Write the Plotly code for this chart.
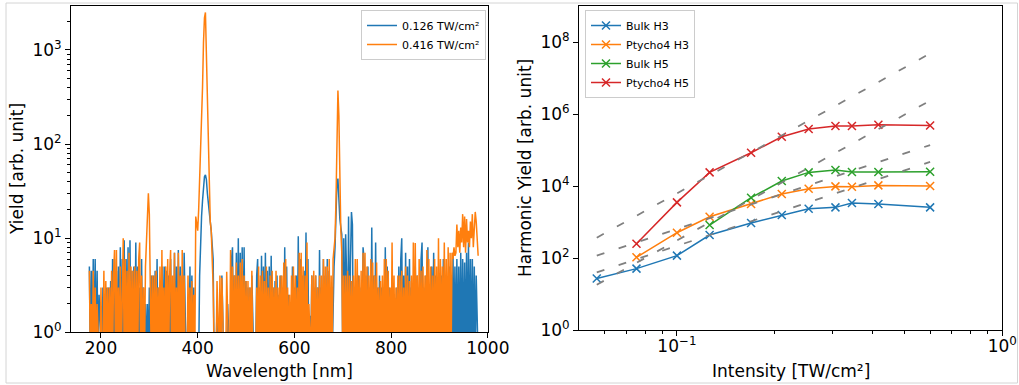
import numpy as np
import plotly.graph_objects as go

W, H = 1019, 385
FONT = "DejaVu Sans"
F = 0.5  # reading "below the axis floor" (drawn off the bottom of the log axis)

# ---------------- left panel: spectra ----------------
wavelength = np.arange(176, 981, 2)  # nm sample grid (2 nm)
yield_0126 = [
    5, F, 4.5, F, 6, F, 6, F, 4.5, F, 2.5, 1.5, F, F, 3, F, 2.5, F, 3, F,
    3, F, 3.5, F, 6, F, 6, F, 4.5, F, 5, F, 8, F, 6, F, 9.5, F, 6, F,
    8, F, 9.5, F, 4.5, F, 5, F, 9, F, 5, F, 3, F, 6, F, 3, F, 2, F,
    2, F, 3, F, 4, F, 4, F, 4.5, F, 6, F, 3, F, 3, F, 5, F, 5, F,
    4.5, F, 4, F, 6, F, 3, F, 7, F, 5, F, 7.5, F, 5, F, 4, F, 7, F,
    F, F, 2, F, 5, F, 4, F, 3, F, F, F, F, F, 4, 10, 17, 25, 38, 45,
    47, 42, 30, 22, 18, 15, 12, 8, 6, F, F, F, 2, F, F, F, F, 4, F, F,
    F, F, F, 2, F, F, F, 6, 8, F, 4, F, 7, F, 10, F, 7, F, 8, F,
    8, F, 3.5, F, 3, F, 3, F, 4, F, F, F, F, 4, 6, F, 3, F, 6.5, F,
    5, F, 7, F, 4.5, F, 5, F, 6.5, F, 3, F, 3.5, F, 4, F, 2.5, F, 4, F,
    3, F, 8, F, 5, F, 2.5, F, 2, F, 5, F, 3, F, 4, F, 10.5, F, 6, F,
    4, F, 4.5, F, 11.5, F, 6, F, 1.5, F, 4, F, 3, F, 4, F, 3, F, 7.5, F,
    3, F, 6, F, 4, F, 6, F, 4.5, F, 3, F, 3, 5, 8, 18, 38, 43, 25, 16,
    13, 11, F, 10, F, 11, 4, F, 17, F, 6, 19, 14, F, 3, F, 2, F, 4, F,
    F, 3, F, 8, 6, F, 4, F, 5, F, 3, F, 13, F, 4, F, 9, F, 3, F,
    4, F, 3, F, 3, F, 8, F, 5, F, 3, F, 2, F, F, F, 2, F, 3, F,
    5, F, 6, 10, F, 4, F, 7, F, 5, F, 6, F, 3, F, 2, F, 5, F, 4,
    F, 3, F, 6, 9, F, 3, F, 4, F, 8, F, 3, F, 5, F, 7, F, 4, F,
    2, F, 3, F, 4, F, 6, F, 3, F, 3, F, 5, F, 4, F, 7, F, 5, F,
    6, F, 5, F, 7, F, 6, F, 5.5, F, 7, F, 9, F, 6, F, 6, F, 5, F,
    4, F, F,
]
yield_0416 = [
    4.5, F, 2, F, 4.5, F, 3, F, 2, F, F, F, 3, F, F, 4.5, F, 3.5, F, 3,
    F, 3, F, 4.5, F, 4, 7.5, F, 7.5, F, 3, F, 5, F, 4, 10, F, 6, F, 4.5,
    F, 7, F, 5, F, 4.5, F, 5, F, 4.5, F, 6, 9, F, 4, F, 3, F, 5, 9,
    22, 30, 18, 5, F, 4, F, 4, F, 4.5, F, 3, F, 5, F, 7.5, F, 3, F, 5,
    F, 6, F, 4, 7.5, F, 4, F, 7, F, 3, F, 7, F, 4, F, 7.5, F, 4, F,
    F, F, 4, F, 3, F, 3.5, F, 2.5, F, 17, 14, 12, 20, 40, 80, 150, 400, 1200, 2200,
    2500, 900, 300, 80, 30, 15, 12, 6, 3, F, F, F, 3.5, F, F, 4, F, 3.8, F, F,
    F, F, 4.4, F, F, F, 7.5, F, 5, F, 4, F, 5.5, F, 4, F, 5.5, F, 6, F,
    4, F, 3.5, F, 3.5, F, 3, F, 4.5, F, F, F, F, 3, F, 5, F, 4, F, 4.5,
    F, 3.5, F, 5, F, 3, F, 4, F, 4.5, F, 3, F, 4.5, F, 3, F, 4, F, 4,
    F, 5.5, F, 6, F, 3, F, 2.5, F, 4, F, 5, F, 4, F, 3, F, 7, F, 7,
    F, 5, F, 4, F, 9, F, 2, F, F, 4, F, 4.5, F, 4, F, 3, F, 4, F,
    4, F, 6, F, 5, F, 5, F, 6, F, 4, F, 6, 9, 10, 25, 120, 370, 200, 30,
    12, 7, F, 4, F, 4, F, 4.5, F, 4, F, 3.5, F, 4, F, 6, F, 6, F, 4,
    F, 4.5, F, 7, F, 7, F, 5, F, 4, F, 6, F, 5.5, F, 4, F, 5.5, F, 3,
    F, 3.5, F, 4, F, 6, F, 6, F, 4.5, F, 3, F, 9, F, 4, F, 3, F, 4,
    F, 4, F, 4.5, F, 3, F, 5, F, 4, F, 3.5, F, 4, F, 9, F, 8.9, F, 4,
    F, 6, F, 4.5, F, 5, F, 4, F, 7.5, F, 6, F, 5, F, 4, F, 6, F, 5,
    F, 10, F, 6, F, 5, F, 9, F, 6, F, 8, F, 7, F, 7, 6, 8, 6.5, 7,
    14, 8, 12, 7, 13, 9, 18, 8, 17, 7, 16, 9, 12, 8, 15, 10, 18, 8, 13, 19,
    15, 9, 6.5,
]
spectrum_labels = ["0.126 TW/cm²", "0.416 TW/cm²"]

# ---------------- right panel: harmonic yield ----------------
intensity = [0.0567, 0.0751, 0.1, 0.126, 0.169, 0.21, 0.254, 0.307, 0.345, 0.416, 0.6]
bulk_h3 = [27, 51, 117, 438, 944, 1575, 2362, 2575, 3396, 3186, 2575]
ptycho4_h3 = [105, 508, 1416, 3186, 6043, 8505, 9870, 9660, 10520, 10090]      # from 0.0751
bulk_h5 = [830, 4780, 13900, 24200, 28100, 24700, 24700, 25200]                # from 0.126
ptycho4_h5 = [251, 3545, 24200, 85200, 237000, 388000, 470000, 470000, 512000, 490000]  # from 0.0751
series_names = ["Bulk H3", "Ptycho4 H3", "Bulk H5", "Ptycho4 H5"]
series_start = [0, 1, 3, 1]
# power-law guide lines: yield = 10**log_prefactor * I**exponent
guide_exponent = [5, 5, 3, 3]
guide_log_prefactor = [8.80, 7.49, 5.81, 5.34]

colors = ["#1f77b4", "#ff7f0e", "#2ca02c", "#d62728"]

fig = go.Figure()

for vals, name, c in zip([yield_0126, yield_0416], spectrum_labels, colors[:2]):
    fig.add_trace(go.Scatter(
        x=wavelength, y=vals, mode="lines", name=name,
        line=dict(color=c, width=1.5), xaxis="x", yaxis="y", legend="legend"))

I = np.array(intensity)
for vals, name, start, c in zip([bulk_h3, ptycho4_h3, bulk_h5, ptycho4_h5],
                                series_names, series_start, colors):
    fig.add_trace(go.Scatter(
        x=intensity[start:], y=vals, mode="lines+markers", name=name,
        line=dict(color=c, width=1.5),
        marker=dict(symbol="x-thin", size=8, color=c, line=dict(color=c, width=1.5)),
        xaxis="x2", yaxis="y2", legend="legend2"))

for n, lc in zip(guide_exponent, guide_log_prefactor):
    fig.add_trace(go.Scatter(
        x=intensity, y=10 ** lc * I ** n, mode="lines", showlegend=False,
        line=dict(color="gray", width=1.8, dash="8px,15px"),
        xaxis="x2", yaxis="y2", hoverinfo="skip"))


def px_x(p):
    return p / W


def px_y(p):
    return 1 - p / H


axis_common = dict(showline=True, mirror=True, linecolor="black", linewidth=1,
                   ticks="outside", ticklen=5, tickcolor="black", tickwidth=1,
                   showgrid=False, zeroline=False, automargin=False,
                   tickfont=dict(family=FONT, size=17, color="black"))

left_minor = [m * 10 ** d for d in range(0, 4) for m in range(2, 10) if m * 10 ** d < 3000]
fig.update_layout(
    width=W, height=H,
    margin=dict(l=0, r=0, t=0, b=0, autoexpand=False),
    paper_bgcolor="white", plot_bgcolor="white",
    font=dict(family=FONT, color="black"),
    xaxis=dict(domain=[px_x(71), px_x(488.3)], anchor="y", range=[138, 1001],
               tickvals=[200, 400, 600, 800, 1000], ticklabelstandoff=-5, **axis_common),
    yaxis=dict(domain=[px_y(332.3), px_y(5.7)], anchor="x", type="log", range=[0, 3.47],
               tickvals=[1, 10, 100, 1000],
               ticktext=["10<sup>0</sup>", "10<sup>1</sup>", "10<sup>2</sup>", "10<sup>3</sup>"],
               minor=dict(tickvals=left_minor, ticks="outside", ticklen=3, tickcolor="black", tickwidth=1),
               **axis_common),
    xaxis2=dict(domain=[px_x(579), px_x(1002.3)], anchor="y2", type="log", range=[np.log10(0.05), 0],
                tickvals=[0.1, 1], ticktext=["10<sup>−1</sup>", "10<sup>0</sup>"], ticklabelstandoff=-4,
                minor=dict(tickvals=[0.06, 0.07, 0.08, 0.09, 0.2, 0.3, 0.4, 0.5, 0.6, 0.7, 0.8, 0.9],
                           ticks="outside", ticklen=3, tickcolor="black", tickwidth=1),
                **axis_common),
    yaxis2=dict(domain=[px_y(330), px_y(5.7)], anchor="x2", type="log", range=[0, 9.02],
                tickvals=[1, 1e2, 1e4, 1e6, 1e8],
                ticktext=["10<sup>0</sup>", "10<sup>2</sup>", "10<sup>4</sup>", "10<sup>6</sup>", "10<sup>8</sup>"],
                **axis_common),
    legend=dict(x=px_x(486), xanchor="right", y=px_y(10), yanchor="top",
                font=dict(family=FONT, size=11, color="black"),
                bgcolor="rgba(255,255,255,0.8)", bordercolor="#cccccc", borderwidth=1),
    legend2=dict(x=px_x(585), xanchor="left", y=px_y(10), yanchor="top",
                 font=dict(family=FONT, size=11, color="black"),
                 bgcolor="rgba(255,255,255,0.8)", bordercolor="#cccccc", borderwidth=1),
    shapes=[dict(type="rect", xref="paper", yref="paper",
                 x0=px_x(6), x1=px_x(1017.5), y0=px_y(383), y1=px_y(3),
                 line=dict(color="#d4d4d4", width=1), fillcolor="rgba(0,0,0,0)")],
    annotations=[
        dict(text="Wavelength [nm]", x=px_x(279.6), y=px_y(371), xref="paper", yref="paper",
             showarrow=False, font=dict(family=FONT, size=17), xanchor="center", yanchor="middle"),
        dict(text="Yield [arb. unit]", x=px_x(17), y=px_y(169), xref="paper", yref="paper",
             showarrow=False, textangle=-90, font=dict(family=FONT, size=17),
             xanchor="center", yanchor="middle"),
        dict(text="Intensity [TW/cm²]", x=px_x(790.7), y=px_y(371), xref="paper", yref="paper",
             showarrow=False, font=dict(family=FONT, size=17), xanchor="center", yanchor="middle"),
        dict(text="Harmonic Yield [arb. unit]", x=px_x(525), y=px_y(168), xref="paper", yref="paper",
             showarrow=False, textangle=-90, font=dict(family=FONT, size=17),
             xanchor="center", yanchor="middle"),
    ],
)

fig.write_html("out.html", config={"displayModeBar": False},
               post_script="document.body.style.margin='0';document.body.style.overflow='hidden';")
